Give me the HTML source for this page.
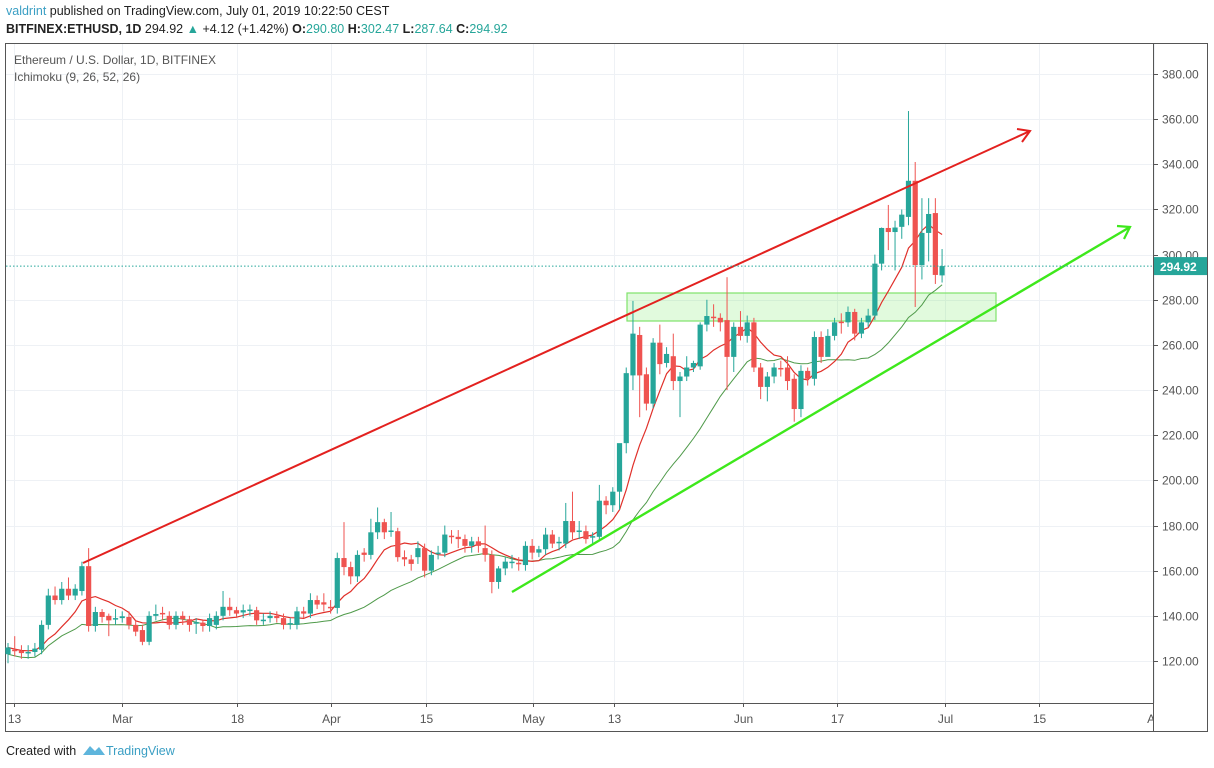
<!DOCTYPE html>
<html><head><meta charset="utf-8"><style>
body{margin:0;background:#fff;width:1214px;height:768px;overflow:hidden;font-family:"Liberation Sans",sans-serif}
svg{display:block}
</style></head><body>
<svg id="chart" width="1214" height="768" xmlns="http://www.w3.org/2000/svg">
<g id="header" font-size="12.5">
<text x="6" y="15" fill="#222"><tspan fill="#3b9fc4">valdrint</tspan> published on TradingView.com, July 01, 2019 10:22:50 CEST</text>
<text x="6" y="33" fill="#222" font-weight="bold">BITFINEX:ETHUSD, 1D <tspan font-weight="normal">294.92 </tspan><tspan fill="#26a69a">▲</tspan><tspan font-weight="normal"> +4.12 (+1.42%) </tspan>O:<tspan fill="#26a69a" font-weight="normal">290.80</tspan> H:<tspan fill="#26a69a" font-weight="normal">302.47</tspan> L:<tspan fill="#26a69a" font-weight="normal">287.64</tspan> C:<tspan fill="#26a69a" font-weight="normal">294.92</tspan></text>
</g>
<g id="grid"></g>
<rect x="5.5" y="43.5" width="1202" height="688" fill="none" stroke="#555"/>
<text x="14" y="64" font-size="12" fill="#555">Ethereum / U.S. Dollar, 1D, BITFINEX</text>
<text x="14" y="81" font-size="12" fill="#555">Ichimoku (9, 26, 52, 26)</text>
<g id="yaxis"></g>
<svg x="0" y="700" width="1153" height="40"><g id="xaxis" transform="translate(0,-700)"></g></svg>
<line x1="1153.5" y1="43" x2="1153.5" y2="731" stroke="#555"/>
<line x1="5" y1="703.5" x2="1153" y2="703.5" stroke="#555"/>
<rect x="627" y="293" width="369" height="28" fill="rgba(120,230,100,0.22)" stroke="#7fe36a" stroke-width="1.2"/>
<g id="ichimoku"></g>
<g id="candles"></g>
<g>
<line x1="83" y1="563" x2="1030" y2="131" stroke="#e3211f" stroke-width="2"/>
<polyline points="1017,129 1030,131 1022,142" fill="none" stroke="#e3211f" stroke-width="2"/>
</g>
<g>
<line x1="512" y1="592" x2="1130" y2="227" stroke="#3ee81c" stroke-width="2.4"/>
<polyline points="1117,226 1130,227 1124,239" fill="none" stroke="#3ee81c" stroke-width="2.2"/>
</g>
<g id="lastprice"></g>
<g>
<text x="6" y="755" font-size="12.5" fill="#222">Created with</text>
<path d="M83,755 l7,-9 l5,5 l4,-4 l6,8 z" fill="#5eb5dc"/>
<text x="106" y="755" font-size="12.5" fill="#3b9fc4">TradingView</text>
</g>
</svg>
<script>
const opens=[123,125,124.5,123.5,124,125,136,149,147,152,149,151,162,135.5,141.7,140,138.5,139,139.5,136,133.7,128.5,140,141.3,140,136,140,138.5,136.5,137,135.5,136,140,144,142.5,141.5,142.3,142.5,137.7,139,140,139,136.2,136,142,141,147,146,144,143.5,165.6,161.6,157.5,168,167,177,181.5,177.3,177.5,166,165,166,170,160,167.5,168,175.5,175,174,171,173,170,167,155,161,163.5,163.5,162.5,171,168,169.5,176,172.3,172,182,177.3,177.5,174.8,175,191,189,195,216.5,246.5,264.4,247,234,261,252,255,244,246,250,250.5,269,272.5,272,271,254.7,268,264,270,250,241.4,246,249.8,250,245,231.6,248.5,245,263.5,254.7,264,270.3,270,274.6,265,270,273,296,311.8,310,312.3,316.7,332.7,295.4,309.6,318.4,290.8];
const closes=[126,124.5,123.5,124,125.5,136,149,147,152,149,152,162,135.5,141.7,139.5,138,139,139.8,136,133,128.5,140,140.8,140.8,136,140,138.5,136,137.2,135.5,139,140,144,142.5,141,142.5,142.8,138,138.3,140,139,136,136.8,142,141,147,145,145,143.5,165.6,161.6,157.5,167,167,177,181.5,177,177.8,166,165,163,170,160,167,168,176,175,174,171,173,171,167,155,161,164,164,163,171,168,169.5,176,172,172.8,182,177,177.8,174,175.3,191,189,195,216.5,247.5,265,246.5,234,261,251.5,256,244,246,250,252,269,272.8,272,270,254.7,268,264,270,250,241.4,246,250,249.3,244,231.6,248.5,245,263.5,254.7,264,270,269.8,274.6,265,270,273,296,311.8,310,312,317.7,332.7,295.4,309.6,318,291,294.92];
const highs=[128,131,127,127,128,138,152,153,155,157,154,164,170,144,143,141,143,142,142,138,136,142,145,144,142,142,142,140,139,138,141,142,151,148,144,145,145,144,141,142,142,141,139,144,144,150,149,150,147,168,181.5,164,169,170,183,188,183,186,179,169,167,173,172,169,171,180,178,178,176,175,175,180,169,162,166,167,166,173,174,171,179,178,175,190,195,182,180,177,198,193,197,205,250,279.5,268,250,263,269,259,265,248,255,253,270,280,278,274,290,270,275,273,272,252,248,252,253,255,247,251,250,266,266,267,272,274,277,276,272,276,300,312,322,315,320,363.6,341,325,325,325,302.47];
const lows=[119,122,121,121,122,123,134,145,145,147,147,149,133,133,137,131,136,137,134,131,127,127,138,138,134,134,136,133,132,133,133,134,138,140,139,139,140,136,136,137,137,134,134,134,139,139,143,142,141,141,158,154,155,164,165,174,174,175,164,162,160,163,157,158,165,166,172,170,168,168,168,164,150,152,158,161,160,160,165,166,167,170,169,170,174,174,172,172,173,185,186,187,212,240,228,231,232,247,250,240,228,244,248,249,266,268,266,240,248,262,261,248,236,235,243,246,240,226,228,242,242,252,258,262,265,268,262,263,268,271,293,302,293,307,313,276.8,289,297,287,287.64];
const yTicks=[120,140,160,180,200,220,240,260,280,300,320,340,360,380];
const xTickLabels=["13","Mar","18","Apr","15","May","13","Jun","17","Jul","15","Au"];
const xTickDays=[0,16,33,47,61,77,89,108,122,138,152,169];
const lastPrice=294.92;

const NS="http://www.w3.org/2000/svg";
function yS(p){return 661-(p-120)*2.2577;}
function xC(i){return 8+i*6.72;}
function xD(d){return 14+d*6.746;}
function mk(tag,attrs,parent){const e=document.createElementNS(NS,tag);for(const k in attrs)e.setAttribute(k,attrs[k]);parent.appendChild(e);return e;}
const grid=document.getElementById('grid'),ya=document.getElementById('yaxis'),xa=document.getElementById('xaxis');
yTicks.forEach(v=>{const y=Math.round(yS(v))+0.5;
 const g=mk('line',{x1:6,x2:1153,y1:y,y2:y,stroke:'#eef1f5'},grid);
 
 
 mk('line',{x1:1153,x2:1158,y1:y,y2:y,stroke:'#555'},ya);
 const t=mk('text',{x:1162,y:y+4,'font-size':12,fill:'#555'},ya);t.textContent=v.toFixed(2);
 
 
});
xTickDays.forEach((d,k)=>{const x=Math.round(xD(d))+0.5;
 const g=mk('line',{x1:x,x2:x,y1:44,y2:703,stroke:'#eef1f5'},grid);
 
 
 mk('line',{x1:x,x2:x,y1:703,y2:707,stroke:'#555'},xa);
 const t=mk('text',{x:x,y:723,'font-size':12,fill:'#555','text-anchor':'middle'},xa);t.textContent=xTickLabels[k];
 
 
});
function sma(n,offset){const pts=[];for(let i=0;i<closes.length;i++){const s=Math.max(0,i-n+1);let sum=0;for(let j=s;j<=i;j++)sum+=closes[j];pts.push(xC(i).toFixed(1)+','+yS(sum/(i-s+1)-offset).toFixed(1));}return pts.join(' ');}
const ich=document.getElementById('ichimoku');
const kj=mk('polyline',{points:sma(20,3),fill:'none',stroke:'#4f9a4a','stroke-width':1},ich);


const tk=mk('polyline',{points:sma(8,0),fill:'none',stroke:'#e0302a','stroke-width':1.2},ich);


const cg=document.getElementById('candles');
for(let i=0;i<closes.length;i++){
 const up=closes[i]>=opens[i];const col=up?'#26a69a':'#ef5350';
 const x=xC(i);const g=mk('g',{},cg);
 
 
 mk('line',{x1:x,x2:x,y1:yS(highs[i]),y2:yS(lows[i]),stroke:col,'stroke-width':1},g);
 const t=yS(Math.max(opens[i],closes[i])),b=yS(Math.min(opens[i],closes[i]));
 mk('rect',{x:x-2.6,y:t,width:5.2,height:Math.max(1.5,b-t),fill:col},g);
}
const lp=document.getElementById('lastprice');const ly=yS(lastPrice);
mk('line',{x1:6,x2:1153,y1:ly,y2:ly,stroke:'#26a69a','stroke-dasharray':'1.5,2','stroke-width':1},lp);
mk('rect',{x:1154,y:ly-9,width:53,height:18,fill:'#26a69a'},lp);
const lt=mk('text',{x:1160,y:ly+5,'font-size':12,fill:'#fff','font-weight':'bold'},lp);lt.textContent=lastPrice.toFixed(2);


</script>
</body></html>
